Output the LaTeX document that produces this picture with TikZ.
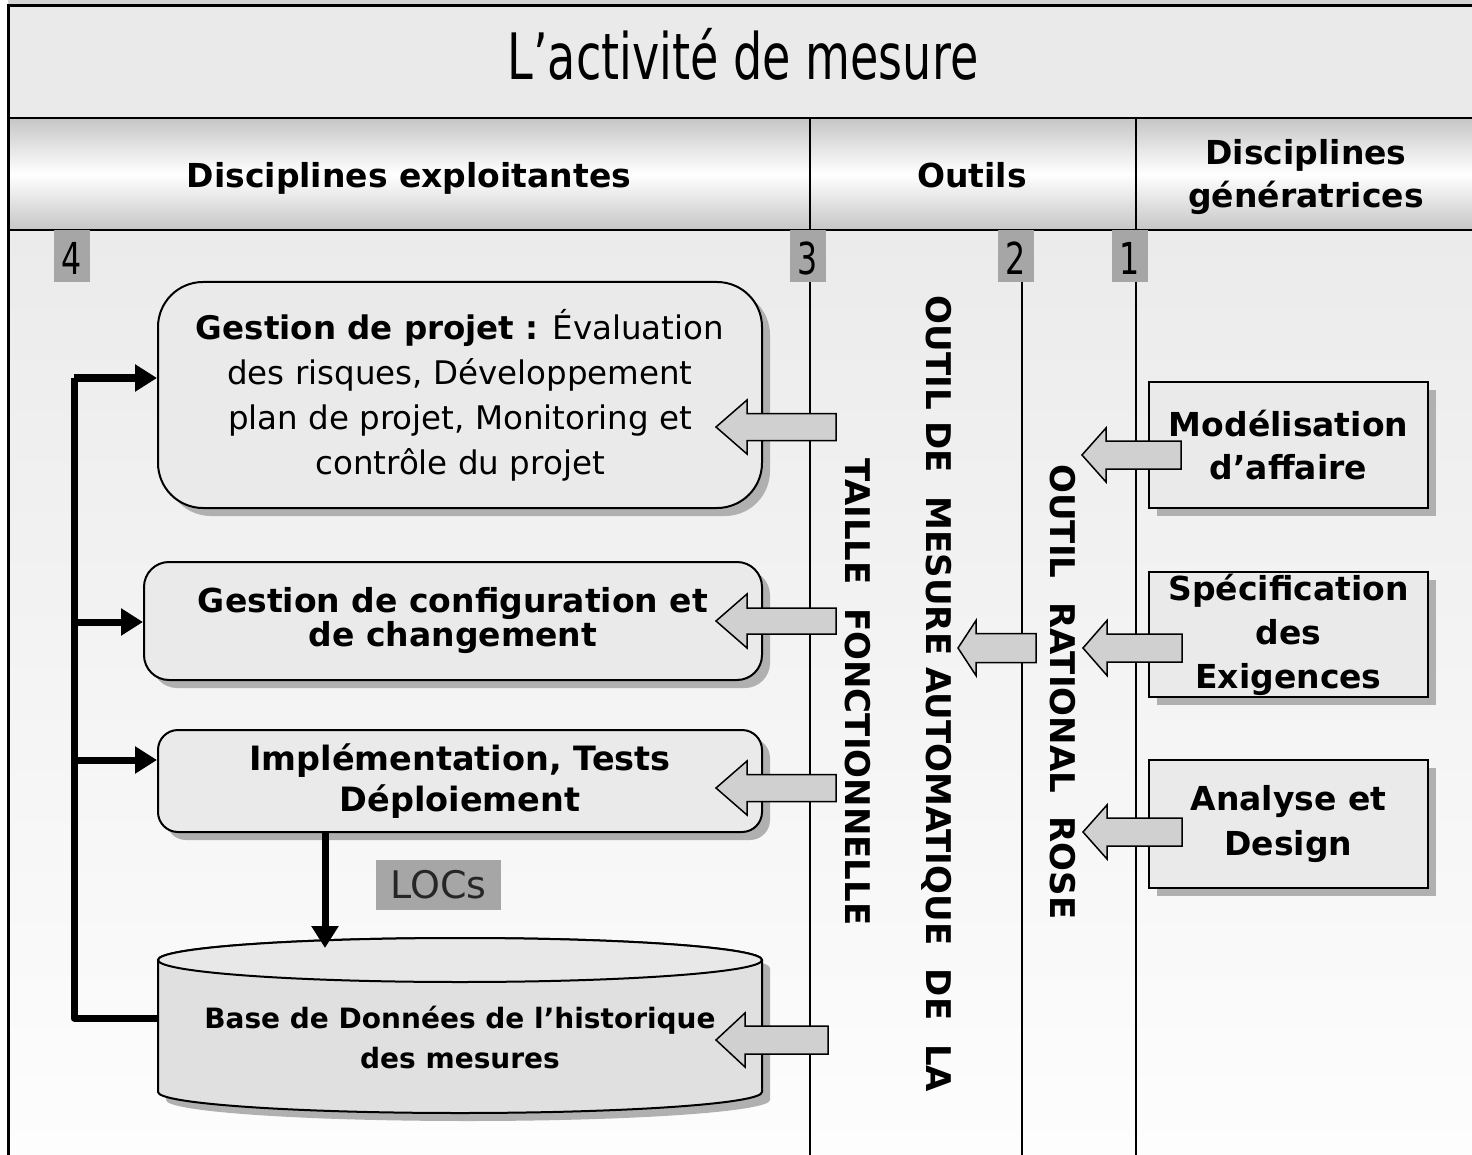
\documentclass[tikz,border=0pt]{standalone}
\usepackage{fontspec}
\setmainfont{DejaVu Sans}
\newfontfamily\narrowfont{DejaVu Sans}[FakeStretch=0.72]
\usetikzlibrary{arrows.meta,shadows,calc}

\definecolor{bandgray}{HTML}{EAEAEA}
\definecolor{stripgray}{HTML}{D4D4D4}
\definecolor{hdrgray}{HTML}{C6C6C6}
\definecolor{bodytop}{HTML}{EBEBEB}
\definecolor{bodybot}{HTML}{FDFDFD}
\definecolor{boxfill}{HTML}{EAEAEA}
\definecolor{shadowgray}{HTML}{B0B0B0}
\definecolor{taggray}{HTML}{A6A6A6}
\definecolor{arrowgray}{HTML}{D0D0D0}
\definecolor{dbfill}{HTML}{E0E0E0}
\definecolor{dbtopfill}{HTML}{E8E8E8}

% wide block arrow pointing left: tip x, head base x, tail x, centre y, head half-height, shaft half-height
\newcommand\fatarrow[6]{%
  \draw[blockarrow] (#1,#4) -- (#2,{#4-#5}) -- (#2,{#4-#6}) -- (#3,{#4-#6})
    -- (#3,{#4+#6}) -- (#2,{#4+#6}) -- (#2,{#4+#5}) -- cycle;}

\begin{document}
\begin{tikzpicture}[x=1pt,y=-1pt,
  rule/.style={line width=2.5pt},
  lane/.style={line width=2pt},
  tagbox/.style={fill=taggray, minimum width=36pt, minimum height=52pt, inner sep=0pt,
    text height=38pt, text depth=0pt, font=\narrowfont\fontsize{44}{44}\selectfont},
  locbox/.style={fill=taggray, minimum width=125pt, minimum height=50pt, inner sep=0pt,
    font=\fontsize{38}{38}\selectfont, text=black!85},
  hdr/.style={font=\bfseries\fontsize{33}{43}\selectfont, align=center, inner sep=0pt},
  card/.style={draw, line width=2pt, fill=boxfill, inner sep=0pt, align=center,
    drop shadow={shadow xshift=8pt, shadow yshift=-8pt, fill=shadowgray, opacity=1}},
  vtext/.style={rotate=-90, inner sep=0pt, text height=24.8pt, text depth=0pt,
    font=\bfseries\fontsize{34}{34}\selectfont},
  blockarrow/.style={draw, line width=1.5pt, fill=arrowgray, line join=miter},
  bus/.style={line width=7pt, line join=round},
  busarrow/.style={line width=7pt, -{Triangle[length=22pt,width=26pt]}}
]
\useasboundingbox (0,0) rectangle (1472,1155);
\fill[white] (0,0) rectangle (1472,1155);
\fill[stripgray] (8,0) rectangle (1472,6);

% title band, header band and body
\fill[bandgray] (8,6) rectangle (1472,118);
\shade[top color=hdrgray, bottom color=hdrgray, middle color=white] (8,118) rectangle (1472,230);
\shade[top color=bodytop, bottom color=bodybot] (8,230) rectangle (1472,1155);

\draw[line width=3pt] (8,1155) -- (8,6) -- (1472,6);
\draw[rule] (8,118) -- (1472,118);
\draw[rule] (8,230) -- (1472,230);
\draw[lane] (810,118) -- (810,230);
\draw[lane] (1136,118) -- (1136,230);

\node[font=\narrowfont\fontsize{64}{64}\selectfont, anchor=base, inner sep=0pt] (title) at (743,80) {L’activité de mesure};

\node[hdr, anchor=base] (hexp) at (409,188) {Disciplines exploitantes};
\node[hdr, anchor=base] (hout) at (972,188) {Outils};
\node[hdr] (hgen) at (1306,177) {Disciplines\\génératrices};

% swim lanes and their numbers
\draw[lane] (810,230) -- (810,1155);
\draw[lane] (1136,230) -- (1136,1155);
\node[tagbox] (t4) at (72,256) {4};
\node[tagbox] (t3) at (808,256) {3};
\node[tagbox] (t2) at (1016,256) {2};
\node[tagbox] (t1) at (1130,256) {1};
\draw[lane] (1022,282) -- (1022,1155);

% exploiting disciplines
\node[card, rounded corners=45pt, minimum width=604pt, minimum height=226pt,
  font=\fontsize{32.5}{45}\selectfont] (gp) at (460,395)
  {\textbf{Gestion de projet :} Évaluation\\des risques, Développement\\plan de projet, Monitoring et\\contrôle du projet};
\node[card, rounded corners=25pt, minimum width=618pt, minimum height=118pt,
  font=\bfseries\fontsize{33}{34}\selectfont] (cfg) at (453,621)
  {Gestion de configuration et\\de changement};
\node[card, rounded corners=20pt, minimum width=604pt, minimum height=102pt,
  font=\bfseries\fontsize{33.5}{41}\selectfont] (impl) at (460,781)
  {Implémentation, Tests\\Déploiement};

% measurement history database (cylinder)
\fill[shadowgray] (166,968) -- (166,1100) arc[start angle=180, end angle=0, x radius=302, y radius=21]
  -- (770,968) arc[start angle=0, end angle=-180, x radius=302, y radius=22] -- cycle;
\draw[line width=2pt, fill=dbfill] (158,960) -- (158,1092)
  arc[start angle=180, end angle=0, x radius=302, y radius=21]
  -- (762,960) arc[start angle=0, end angle=-180, x radius=302, y radius=22] -- cycle;
\draw[line width=2pt, fill=dbtopfill] (460,960) ellipse[x radius=302, y radius=22];
\node[font=\bfseries\fontsize{28}{40}\selectfont, align=center, inner sep=0pt] (db) at (460,1037)
  {Base de Données de l’historique\\des mesures};
\coordinate (dbleft) at (158,1018);
\coordinate (dbtop) at (325,948);

% feedback bus from the database
\coordinate (bus1) at (74,378);
\coordinate (bus2) at (74,622);
\coordinate (bus3) at (74,760);
\coordinate (bus4) at (74,1018);
\draw[bus] (dbleft) -- (bus4) -- (bus1);
\draw[busarrow] (bus1) -- (bus1 -| gp.west);
\draw[busarrow] (bus2) -- (bus2 -| cfg.west);
\draw[busarrow] (bus3) -- (bus3 -| impl.west);
\draw[busarrow] (impl.south -| dbtop) -- (dbtop);
\node[locbox] (loc) at (438.5,885) {LOCs};

% generating disciplines
\node[card, minimum width=279pt, minimum height=126pt, font=\bfseries\fontsize{33}{43}\selectfont]
  (bm) at (1288.5,445) {Modélisation\\d’affaire};
\node[card, minimum width=279pt, minimum height=125pt, font=\bfseries\fontsize{33}{44}\selectfont]
  (req) at (1288.5,634.5) {Spécification\\des\\Exigences};
\node[card, minimum width=279pt, minimum height=128pt, font=\bfseries\fontsize{33}{45}\selectfont]
  (ad) at (1288.5,824) {Analyse et\\Design};

% tools, written along the lanes
\node[vtext] (tfonc) at (858,692) {TAILLE~~FONCTIONNELLE};
\node[vtext] (tmes) at (939,694) {OUTIL DE~~MESURE AUTOMATIQUE~~DE~~LA};
\node[vtext] (trose) at (1063,692) {OUTIL~~RATIONAL~~ROSE};

% data flows between lanes
\fatarrow{716}{747}{836}{427}{27}{13.5}
\fatarrow{716}{747}{836}{621}{27}{13}
\fatarrow{716}{747}{836}{788}{27}{13.5}
\fatarrow{716}{745}{828}{1040}{27}{14}
\fatarrow{958}{976}{1036}{648}{27.5}{14.5}
\fatarrow{1082}{1106}{1181}{455}{27}{14}
\fatarrow{1083}{1107}{1182}{648}{27.5}{14}
\fatarrow{1083}{1107}{1182}{832}{27}{14}
\end{tikzpicture}
\end{document}
